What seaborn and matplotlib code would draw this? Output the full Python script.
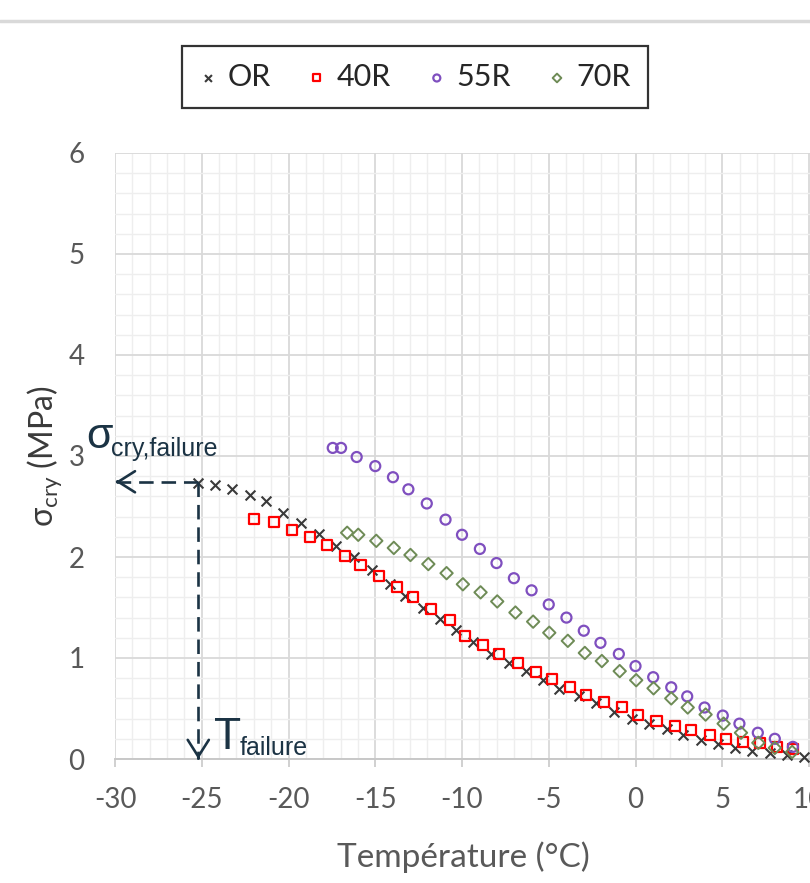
import matplotlib
matplotlib.use("Agg")
import matplotlib.pyplot as plt
import seaborn as sns
import numpy as np
import pandas as pd
from matplotlib.lines import Line2D
from matplotlib.ticker import MultipleLocator

# ---------------- data ----------------
or_temp = [-25.2, -24.23, -23.27, -22.2, -21.3, -20.3, -19.27, -18.27, -17.25, -16.22,
           -15.18, -14.16, -13.3, -12.27, -11.25, -10.33, -9.34, -8.32, -7.3, -6.3,
           -5.35, -4.4, -3.27, -2.25, -1.25, -0.19, 0.77, 1.79, 2.75, 3.75,
           4.74, 5.76, 6.73, 7.78, 8.74, 9.74]
or_sigma = [2.73, 2.71, 2.67, 2.61, 2.55, 2.44, 2.34, 2.23, 2.11, 2.00,
            1.87, 1.73, 1.61, 1.50, 1.39, 1.28, 1.16, 1.04, 0.95, 0.87,
            0.78, 0.69, 0.62, 0.55, 0.47, 0.40, 0.35, 0.30, 0.24, 0.19,
            0.15, 0.11, 0.08, 0.06, 0.04, 0.02]

r40_temp = [-22.0, -20.85, -19.8, -18.77, -17.77, -16.77, -15.85, -14.79, -13.73, -12.81,
            -11.8, -10.72, -9.8, -8.8, -7.84, -6.78, -5.76, -4.8, -3.75, -2.83,
            -1.79, -0.77, 0.15, 1.21, 2.25, 3.21, 4.27, 5.19, 6.21, 7.2,
            8.17, 9.1]
r40_sigma = [2.38, 2.35, 2.27, 2.20, 2.12, 2.01, 1.92, 1.81, 1.70, 1.60,
             1.49, 1.38, 1.22, 1.13, 1.04, 0.95, 0.86, 0.79, 0.71, 0.63,
             0.56, 0.51, 0.44, 0.38, 0.33, 0.29, 0.24, 0.20, 0.17, 0.16,
             0.12, 0.10]

r55_temp = [-17.45, -16.97, -16.07, -15.0, -13.98, -13.09, -12.03, -10.95, -10.0, -8.97,
            -8.01, -7.01, -5.99, -5.0, -3.98, -2.98, -2.02, -0.96, 0.0, 1.02,
            2.06, 2.98, 3.98, 5.03, 5.99, 7.05, 8.03, 9.07]
r55_sigma = [3.08, 3.08, 2.99, 2.90, 2.79, 2.67, 2.53, 2.37, 2.22, 2.08,
             1.94, 1.79, 1.67, 1.53, 1.40, 1.27, 1.15, 1.04, 0.92, 0.81,
             0.71, 0.62, 0.51, 0.43, 0.35, 0.26, 0.20, 0.12]

r70_temp = [-16.62, -15.98, -14.94, -13.93, -12.97, -11.94, -10.89, -9.95, -8.93, -7.97,
            -6.92, -5.9, -4.97, -3.9, -2.92, -1.94, -0.91, 0.04, 1.04, 2.06,
            3.01, 4.04, 5.08, 6.08, 7.08, 8.03, 9.03]
r70_sigma = [2.24, 2.22, 2.16, 2.09, 2.02, 1.93, 1.84, 1.73, 1.65, 1.56,
             1.45, 1.36, 1.25, 1.17, 1.05, 0.97, 0.87, 0.78, 0.70, 0.60,
             0.51, 0.44, 0.35, 0.26, 0.16, 0.11, 0.07]

series_labels = ["OR", "40R", "55R", "70R"]

failure_temp = -25.2
failure_sigma = 2.745

x_ticks = [-30, -25, -20, -15, -10, -5, 0, 5, 10, 15]
y_ticks = [0, 1, 2, 3, 4, 5, 6]

# ---------------- style ----------------
sns.set_style("white")
plt.rcParams["font.family"] = ["Lato", "DejaVu Sans"]
plt.rcParams["mathtext.fontset"] = "custom"
plt.rcParams["mathtext.rm"] = "Lato"
plt.rcParams["mathtext.it"] = "Lato:italic"
plt.rcParams["axes.unicode_minus"] = False

W, H = 810, 883
fig = plt.figure(figsize=(W / 100, H / 100), dpi=100)

# axes: -30 at x=115 px, 17.35 px per degree; y 0 at 759 px, 6 at 153 px
x_left, px_per_deg = 115, 17.35
ax = fig.add_axes([x_left / W, (H - 759) / H, 45 * px_per_deg / W, 606 / H])

navy = "#1b3344"

# series
sns.scatterplot(x=or_temp, y=or_sigma, marker="x", s=50, color="#3a3a3a",
                linewidth=1.5, ax=ax, label=series_labels[0], clip_on=False, zorder=3)
sns.scatterplot(x=r40_temp, y=r40_sigma, marker="s", s=52, facecolor="none",
                edgecolor="#ff0000", linewidth=1.6, ax=ax, label=series_labels[1],
                clip_on=False, zorder=3)
sns.scatterplot(x=r55_temp, y=r55_sigma, marker="o", s=52, facecolor="none",
                edgecolor="#7f4fbf", linewidth=1.6, ax=ax, label=series_labels[2],
                clip_on=False, zorder=3)
sns.scatterplot(x=r70_temp, y=r70_sigma, marker="D", s=40, facecolor="none",
                edgecolor="#6e8b56", linewidth=1.4, ax=ax, label=series_labels[3],
                clip_on=False, zorder=3)

handles, labels = ax.get_legend_handles_labels()
if ax.get_legend() is not None:
    ax.get_legend().remove()

ax.set_xlim(-30, 15)
ax.set_ylim(0, 6)
ax.set_xticks(x_ticks)
ax.set_yticks(y_ticks)
ax.xaxis.set_minor_locator(MultipleLocator(1))
ax.yaxis.set_minor_locator(MultipleLocator(0.2))
ax.grid(which="major", color="#d9d9d9", linewidth=1.3)
ax.grid(which="minor", color="#eeeeee", linewidth=1.0)
ax.set_axisbelow(True)

for s in ["left", "top", "right"]:
    ax.spines[s].set_visible(False)
ax.spines["bottom"].set_color("#c8c8c8")
ax.spines["bottom"].set_linewidth(1.4)

ax.tick_params(axis="x", which="major", direction="out", length=6, width=1.2,
               color="#c8c8c8", pad=14, labelsize=20, labelcolor="#595959", bottom=True)
ax.tick_params(axis="y", which="major", length=0, pad=22, labelsize=20,
               labelcolor="#595959", left=True)
ax.tick_params(which="minor", length=0)

ax.set_xlabel("Température (°C)", fontsize=24, color="#595959")
ax.xaxis.set_label_coords((463 - x_left) / (45 * px_per_deg), -(841 - 759) / 606)
ax.set_ylabel(r"σ$_{\mathregular{cry}}$ (MPa)", fontsize=23, color="#3a3a3a")
ax.yaxis.set_label_coords(-(115 - 64) / (45 * px_per_deg), 0.5)

# annotation: dashed arrows
dash = dict(color=navy, linewidth=1.9, dashes=(5.5, 3.0), zorder=4, clip_on=False)
ax.plot([failure_temp, -29.95], [failure_sigma, failure_sigma], **dash)
ax.plot([failure_temp, failure_temp], [failure_sigma, 0.0], **dash)
head = dict(arrowstyle="->,head_length=0.6,head_width=0.38", lw=1.9, color=navy,
            shrinkA=0, shrinkB=0, mutation_scale=20)
ax.annotate("", xy=(-29.95, failure_sigma), xytext=(-29.85, failure_sigma),
            arrowprops=head, annotation_clip=False, zorder=5)
ax.annotate("", xy=(failure_temp, 0.0), xytext=(failure_temp, 0.01),
            arrowprops=head, annotation_clip=False, zorder=5)


def fx(px):
    return px / W


def fy(py):
    return 1 - py / H


ann_font = ["Liberation Sans", "DejaVu Sans"]
fig.text(fx(86), fy(448), "σ", fontsize=31, color=navy, family=ann_font, va="baseline")
fig.text(fx(111), fy(456), "cry,failure", fontsize=18, color=navy, family=ann_font,
         va="baseline")
fig.text(fx(214), fy(749), "T", fontsize=32, color=navy, family=ann_font, va="baseline")
fig.text(fx(240), fy(755), "failure", fontsize=18, color=navy, family=ann_font,
         va="baseline")

# legend
leg = fig.legend(handles, labels, loc="center", bbox_to_anchor=(fx(415), fy(77)),
                 ncol=4, frameon=True, fancybox=False, edgecolor="black",
                 fontsize=22, handlelength=0.6, handletextpad=0.35, columnspacing=1.2,
                 borderpad=0.55, borderaxespad=0, markerscale=0.7)
leg.get_frame().set_linewidth(1.6)

# top grey rule
fig.add_artist(Line2D([0, 1], [fy(21), fy(21)], color="#d9d9d9", linewidth=2.5,
                      transform=fig.transFigure))

fig.savefig("out.png", dpi=100)
